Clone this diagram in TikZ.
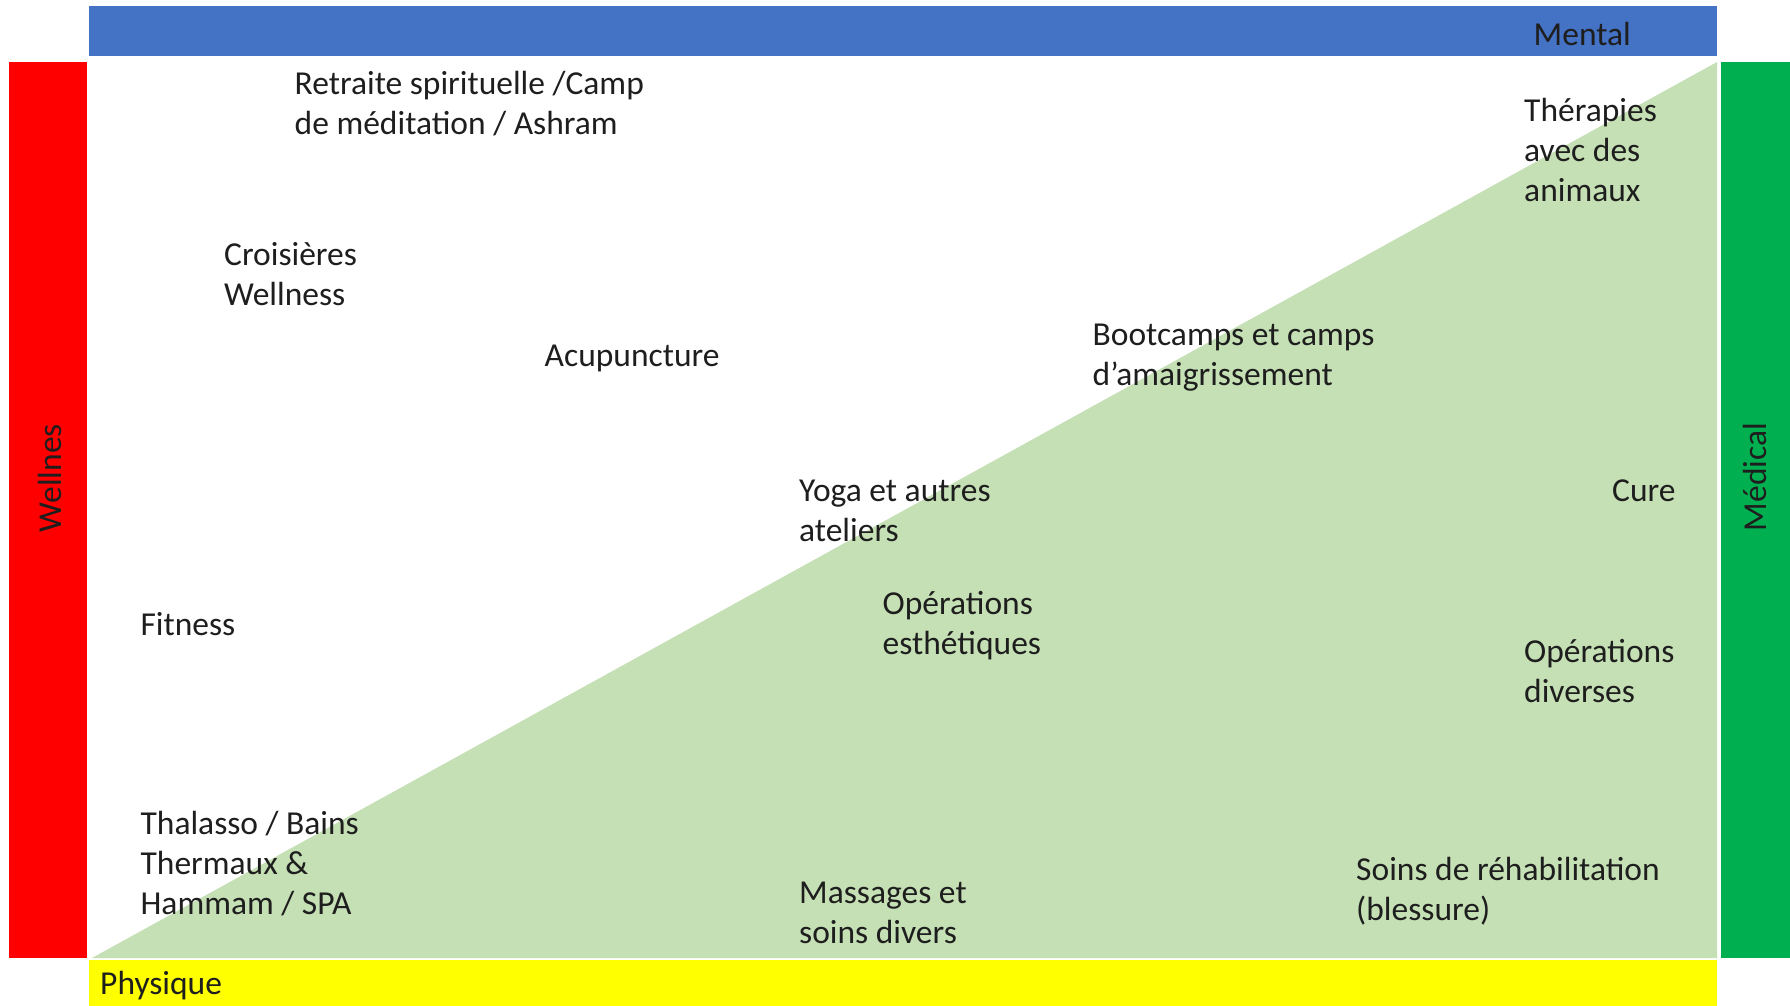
\documentclass[tikz,border=0pt]{standalone}
\usepackage{fontspec}
\setmainfont{Carlito}
\definecolor{cblue}{HTML}{4472C4}
\definecolor{cred}{HTML}{FF0000}
\definecolor{cyellow}{HTML}{FFFF00}
\definecolor{cgreen}{HTML}{00B050}
\definecolor{clight}{HTML}{C5E0B4}
\definecolor{ctext}{HTML}{1E1E1E}
\begin{document}
\begin{tikzpicture}[x=1pt,y=-1pt,
  lbl/.style={anchor=west,inner sep=0pt,align=left,text=ctext,font=\fontsize{33.5}{40}\selectfont}]
\useasboundingbox (0,0) rectangle (1790,1006);
\fill[white] (0,0) rectangle (1790,1006);
% bars
\fill[cblue] (89,6) rectangle (1717,56);
\fill[cred] (9,62) rectangle (87,958);
\fill[cyellow] (89,960) rectangle (1717,1006);
\fill[cgreen] (1721,62) rectangle (1790,958);
% triangle
\fill[clight] (92,958) -- (1717,62) -- (1717,958) -- cycle;
% axis labels
\node[lbl,anchor=east] (mental) at (1631,34) {Mental};
\node[lbl] (physique) at (100,986) {Physique};
\node[lbl,anchor=center,rotate=90] (wellnes) at (50,478) {Wellnes};
\node[lbl,anchor=center,rotate=90] (medical) at (1755,477) {Médical};
% items
\node[lbl] (retraite) at (294.5,104) {Retraite spirituelle /Camp\\de méditation / Ashram};
\node[lbl] (croisieres) at (224,274) {Croisières\\Wellness};
\node[lbl] (acu) at (544.5,358) {Acupuncture};
\node[lbl] (yoga) at (799,511) {Yoga et autres\\ateliers};
\node[lbl] (boot) at (1092.5,358) {Bootcamps et camps\\d’amaigrissement};
\node[lbl] (thera) at (1524,150) {Thérapies\\avec des\\animaux};
\node[lbl] (cure) at (1612,491) {Cure};
\node[lbl] (fitness) at (140.4,624) {Fitness};
\node[lbl] (opest) at (882.5,626) {Opérations\\esthétiques};
\node[lbl] (opdiv) at (1524,671) {Opérations\\diverses};
\node[lbl] (thalasso) at (140.4,864) {Thalasso / Bains\\Thermaux \&\\Hammam / SPA};
\node[lbl] (massages) at (799,913) {Massages et\\soins divers};
\node[lbl] (soins) at (1356,891) {Soins de réhabilitation\\(blessure)};
\end{tikzpicture}
\end{document}
